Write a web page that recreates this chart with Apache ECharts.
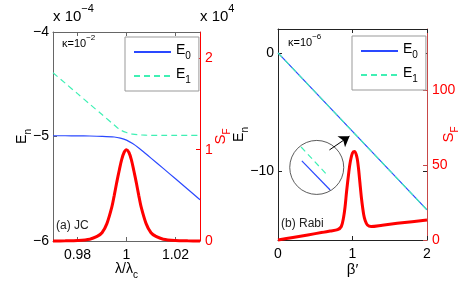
<!DOCTYPE html>
<html><head><meta charset="utf-8">
<script src="https://cdn.jsdelivr.net/npm/echarts@6/dist/echarts.min.js"></script>
<style>html,body{margin:0;padding:0;background:#fff}#c{width:471px;height:295px}</style>
</head><body><div id="c"></div>
<script>
// ---- data (panel a: JC) ----
const jcLambda = [0.97,0.975,0.98,0.985,0.99,0.995,0.9975,1.0,1.0025,1.005,1.0075,1.01,1.015,1.02,1.025,1.03];
const jcE0 = [-4.993,-4.993,-4.994,-4.995,-4.998,-5.005,-5.016,-5.035,-5.068,-5.11,-5.158,-5.207,-5.305,-5.405,-5.505,-5.605];
const jcE1 = [-4.39,-4.49,-4.59,-4.69,-4.79,-4.89,-4.937,-4.962,-4.977,-4.984,-4.987,-4.989,-4.99,-4.99,-4.99,-4.99];
const sfLambda = [0.97,0.975,0.98,0.985,0.988,0.99,0.992,0.994,0.995,0.996,0.997,0.998,0.999,1.0,1.001,1.002,1.003,1.004,1.005,1.006,1.008,1.01,1.012,1.015,1.02,1.025,1.03];
const sfJC = [0,0.002,0.006,0.02,0.05,0.09,0.19,0.37,0.50,0.64,0.77,0.89,0.97,1.0,0.97,0.89,0.77,0.64,0.50,0.37,0.19,0.09,0.05,0.02,0.006,0.002,0];
// ---- data (panel b: Rabi) ----
const rabiBeta = [0,0.5,1.0,1.5,2.0];
const rabiE0 = [0,-3.32,-6.65,-9.97,-13.3];
const rabiE1 = [0,-3.32,-6.65,-9.97,-13.3];
const sfBeta = [0,0.2,0.4,0.6,0.7,0.8,0.85,0.88,0.9,0.92,0.95,0.97,1.0,1.03,1.06,1.08,1.1,1.12,1.15,1.17,1.2,1.25,1.4,1.6,1.8,2.0];
const sfRabi = [0,1.7,3.4,5.1,6.0,6.9,9,15,22,32,45,52,58,59,55,48,38,28,17,13,10,9.0,9.9,11.1,12.2,13.3];
// inset (magnified view) in panel b data coords
const insetBetaE1 = [0.31,0.66];
const insetValE1 = [-7.97,-10.34];
const insetBetaE0 = [0.32,0.70];
const insetValE0 = [-9.15,-11.61];
const insetCircle = [0.52,-9.70];
const arrowFrom = [0.69,-8.22];
const arrowTo = [0.96,-7.05];
// ticks
const ticksXa = [0.98,1,1.02];
const ticksEa = [-6,-5,-4];
const ticksSa = [0,1,2];
const ticksEb = [-10,0];
const ticksSb = [0,50,100];

const zip = (a,b)=>a.map((v,i)=>[v,b[i]]);
const BLUE='#2a48ff', CYAN='#3ff0b4', RED='#ff0000';
const FONT='Liberation Sans, Arial, sans-serif';
const minus = v => String(v).replace('-', '\u2212');

const subRich = {
  e:{fontSize:14,fontFamily:FONT,color:'#000',verticalAlign:'bottom',padding:[0,0,4,0]},
  s:{fontSize:10,fontFamily:FONT,color:'#000',verticalAlign:'bottom'}
};
const subRichRed = {
  e:{fontSize:15,fontFamily:FONT,color:RED,verticalAlign:'bottom',padding:[0,0,4,0]},
  s:{fontSize:10,fontFamily:FONT,color:RED,verticalAlign:'bottom'}
};

const chart = echarts.init(document.getElementById('c'), null, {renderer:'canvas'});
const legendCommon = {orient:'vertical',backgroundColor:'#fff',
  borderColor:'#999',borderWidth:1,borderRadius:0,padding:[6,8,6,8],
  itemWidth:37,itemHeight:14,itemGap:6,selectedMode:false,
  itemStyle:{opacity:0},
  formatter:n=>'{e|E}{s|'+n.charAt(1)+'}',textStyle:{rich:subRich}};
const option = {
  animation:false,
  backgroundColor:'#fff',
  grid:[
    {left:53,top:32,width:147,height:209,outerBoundsMode:'none'},
    {left:278,top:29,width:149,height:211,outerBoundsMode:'none'}
  ],
  xAxis:[
    {gridIndex:0,type:'value',min:0.97,max:1.03,position:'bottom',
     axisLine:{onZero:false,lineStyle:{color:'#666'}},
     axisTick:{inside:true,length:4,customValues:ticksXa,lineStyle:{color:'#666'}},
     axisLabel:{customValues:ticksXa,margin:7,fontSize:14,fontFamily:FONT,color:'#000'},
     splitLine:{show:false},
     name:'{e|λ/λ}{s|c}',nameLocation:'middle',nameGap:21,nameMoveOverlap:false,
     nameTextStyle:{rich:subRich}},
    {gridIndex:0,type:'value',min:0.97,max:1.03,position:'top',
     axisLine:{onZero:false,lineStyle:{color:'#666'}},
     axisTick:{inside:true,length:4,customValues:ticksXa,lineStyle:{color:'#666'}},
     axisLabel:{show:false},splitLine:{show:false}},
    {gridIndex:1,type:'value',min:0,max:2,interval:1,position:'bottom',
     axisLine:{onZero:false,lineStyle:{color:'#222'}},
     axisTick:{inside:true,length:4,lineStyle:{color:'#222'}},
     axisLabel:{margin:7,fontSize:14,fontFamily:FONT,color:'#000'},
     splitLine:{show:false},
     name:'β′',nameLocation:'middle',nameGap:22,nameMoveOverlap:false,
     nameTextStyle:{fontSize:15,fontFamily:FONT,color:'#000'}},
    {gridIndex:1,type:'value',min:0,max:2,interval:1,position:'top',
     axisLine:{onZero:false,lineStyle:{color:'#222'}},
     axisTick:{inside:true,length:4,lineStyle:{color:'#222'}},
     axisLabel:{show:false},splitLine:{show:false}}
  ],
  yAxis:[
    {gridIndex:0,type:'value',min:-6,max:-4,position:'left',
     axisLine:{show:true,onZero:false,lineStyle:{color:'#666'}},
     axisTick:{show:true,inside:true,length:4,customValues:ticksEa,lineStyle:{color:'#666'}},
     axisLabel:{customValues:ticksEa,margin:4,fontSize:14,fontFamily:FONT,color:'#000',formatter:minus},
     splitLine:{show:false},
     name:'{e|E}{s|n}',nameLocation:'middle',nameGap:20,nameRotate:90,nameMoveOverlap:false,
     nameTextStyle:{rich:subRich}},
    {gridIndex:0,type:'value',min:0,max:2.29,position:'right',
     axisLine:{show:true,onZero:false,lineStyle:{color:RED}},
     axisTick:{show:true,inside:true,length:4,customValues:ticksSa,lineStyle:{color:RED}},
     axisLabel:{customValues:ticksSa,margin:5,fontSize:14,fontFamily:FONT,color:RED},
     splitLine:{show:false},
     name:'{e|S}{s|F}',nameLocation:'middle',nameGap:13,nameRotate:90,nameMoveOverlap:false,
     nameTextStyle:{rich:subRichRed}},
    {gridIndex:1,type:'value',min:-15.85,max:2.03,position:'left',
     axisLine:{show:true,onZero:false,lineStyle:{color:'#222'}},
     axisTick:{show:true,inside:true,length:4,customValues:ticksEb,lineStyle:{color:'#222'}},
     axisLabel:{customValues:ticksEb,margin:4,fontSize:14,fontFamily:FONT,color:'#000',formatter:minus},
     splitLine:{show:false},
     name:'{e|E}{s|n}',nameLocation:'middle',nameGap:28,nameRotate:90,nameMoveOverlap:false,
     nameTextStyle:{rich:subRich}},
    {gridIndex:1,type:'value',min:0,max:140.7,position:'right',
     axisLine:{show:true,onZero:false,lineStyle:{color:'#c84848'}},
     axisTick:{show:true,inside:true,length:4,customValues:ticksSb,lineStyle:{color:'#c84848'}},
     axisLabel:{customValues:ticksSb,margin:5,fontSize:14,fontFamily:FONT,color:RED},
     splitLine:{show:false},
     name:'{e|S}{s|F}',nameLocation:'middle',nameGap:14,nameRotate:90,nameMoveOverlap:false,
     nameTextStyle:{rich:subRichRed}},
    {gridIndex:1,type:'value',min:-15.85,max:2.03,position:'right',
     axisLine:{show:false,onZero:false},
     axisTick:{show:true,inside:true,length:4,customValues:ticksEb,lineStyle:{color:'#222'}},
     axisLabel:{show:false},splitLine:{show:false}}
  ],
  legend:[
    Object.assign({data:['E0a','E1a'],left:125,top:37}, legendCommon),
    Object.assign({data:['E0b','E1b'],left:352,top:36}, legendCommon)
  ],
  series:[
    {name:'SFa',type:'line',xAxisIndex:0,yAxisIndex:1,data:zip(sfLambda,sfJC),symbol:'none',smooth:0.3,clip:false,
     lineStyle:{color:RED,width:3},itemStyle:{color:RED},z:2},
    {name:'E0a',type:'line',xAxisIndex:0,yAxisIndex:0,data:zip(jcLambda,jcE0),symbol:'none',smooth:0.3,
     lineStyle:{color:BLUE,width:1.2},itemStyle:{color:BLUE},z:3},
    {name:'E1a',type:'line',xAxisIndex:0,yAxisIndex:0,data:zip(jcLambda,jcE1),symbol:'none',smooth:0.3,
     lineStyle:{color:CYAN,width:1.2,type:[6,4]},itemStyle:{color:CYAN},z:3},
    {name:'SFb',type:'line',xAxisIndex:2,yAxisIndex:3,data:zip(sfBeta,sfRabi),symbol:'none',smooth:0.3,clip:false,
     lineStyle:{color:RED,width:3},itemStyle:{color:RED},z:2},
    {name:'E0b',type:'line',xAxisIndex:2,yAxisIndex:2,data:zip(rabiBeta,rabiE0),symbol:'none',
     lineStyle:{color:BLUE,width:1.2},itemStyle:{color:BLUE},z:3},
    {name:'E1b',type:'line',xAxisIndex:2,yAxisIndex:2,data:zip(rabiBeta,rabiE1),symbol:'none',
     lineStyle:{color:CYAN,width:1.2,type:[6,4]},itemStyle:{color:CYAN},z:3},
    {name:'insetE0',type:'line',xAxisIndex:2,yAxisIndex:2,data:zip(insetBetaE0,insetValE0),symbol:'none',
     lineStyle:{color:BLUE,width:1.2},z:3},
    {name:'insetE1',type:'line',xAxisIndex:2,yAxisIndex:2,data:zip(insetBetaE1,insetValE1),symbol:'none',
     lineStyle:{color:CYAN,width:1.2,type:[6,4]},z:3},
    {name:'circle',type:'scatter',xAxisIndex:2,yAxisIndex:2,data:[insetCircle],symbol:'circle',symbolSize:54,
     itemStyle:{color:'rgba(0,0,0,0)',borderColor:'#333',borderWidth:1},silent:true,z:3,
     markLine:{silent:true,symbol:['none','arrow'],symbolSize:10,label:{show:false},
       lineStyle:{color:'#000',width:1,type:'solid'},emphasis:{disabled:true},
       data:[[{coord:arrowFrom},{coord:arrowTo}]]}}
  ],
  graphic:[
    {type:'text',left:53,top:3,style:{text:'{a|x 10}{b|\u22124}',rich:{
       a:{fontSize:15,fontFamily:FONT,color:'#000',verticalAlign:'top',padding:[6,0,0,0]},
       b:{fontSize:11,fontFamily:FONT,color:'#000',verticalAlign:'top'}}}},
    {type:'text',left:200,top:3,style:{text:'{a|x 10}{b|4}',rich:{
       a:{fontSize:15,fontFamily:FONT,color:RED,verticalAlign:'top',padding:[6,0,0,0]},
       b:{fontSize:11,fontFamily:FONT,color:RED,verticalAlign:'top'}}}},
    {type:'text',left:62,top:34,style:{text:'{a|κ=10}{b|\u22122}',rich:{
       a:{fontSize:11,fontFamily:FONT,color:'#000',verticalAlign:'top',padding:[4,0,0,0]},
       b:{fontSize:8,fontFamily:FONT,color:'#000',verticalAlign:'top'}}}},
    {type:'text',left:288,top:33,style:{text:'{a|κ=10}{b|\u22126}',rich:{
       a:{fontSize:11,fontFamily:FONT,color:'#000',verticalAlign:'top',padding:[4,0,0,0]},
       b:{fontSize:8,fontFamily:FONT,color:'#000',verticalAlign:'top'}}}},
    {type:'text',left:56,top:220,style:{text:'(a) JC',fontSize:12,fontFamily:FONT,fill:'#222'}},
    {type:'text',left:281,top:218,style:{text:'(b) Rabi',fontSize:12,fontFamily:FONT,fill:'#222'}}
  ]
};
chart.setOption(option);
</script></body></html>
